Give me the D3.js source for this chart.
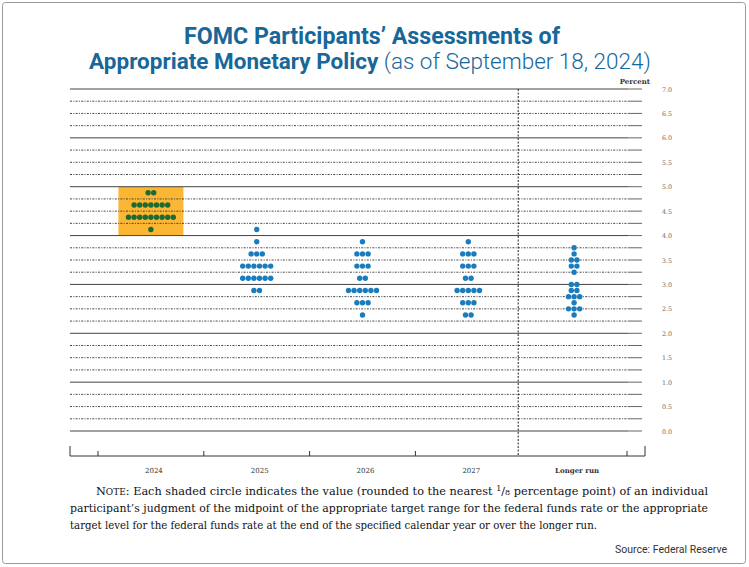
<!DOCTYPE html>
<html><head><meta charset="utf-8">
<script src="https://cdn.jsdelivr.net/npm/d3@7"></script>
<style>body{margin:0;background:#fff;} svg{display:block;}</style>
</head><body>
<svg id="c" width="749" height="567"></svg>
<script>
const categories = ["2024", "2025", "2026", "2027", "Longer run"];
// each series: [rate, number of participants]
const dots2024 = [[4.875,2],[4.625,7],[4.375,9],[4.125,1]];
const dots2025 = [[4.125,1],[3.875,1],[3.625,3],[3.375,6],[3.125,6],[2.875,2]];
const dots2026 = [[3.875,1],[3.625,3],[3.375,3],[3.125,2],[2.875,6],[2.625,3],[2.375,1]];
const dots2027 = [[3.875,1],[3.625,3],[3.375,3],[3.125,2],[2.875,5],[2.625,3],[2.375,2]];
const dotsLonger = [[3.75,1],[3.625,1],[3.5,2],[3.375,2],[3.25,1],[3.0,2],[2.875,2],[2.75,3],[2.625,1],[2.5,3],[2.375,1]];
const seriesDots = [dots2024, dots2025, dots2026, dots2027, dotsLonger];
const highlightRange = [4.0, 5.0];
const yTicks = [0,0.5,1,1.5,2,2.5,3,3.5,4,4.5,5,5.5,6,6.5,7];
const gridValues = d3.range(0, 7.01, 0.25);

const svg = d3.select("#c");
const y = d3.scaleLinear().domain([0,7]).range([431,89]);
const x = d3.scaleBand().domain(categories).range([98,627]).padding(0);

// outer border
svg.append("rect").attr("x",2.5).attr("y",2.5).attr("width",743).attr("height",561)
  .attr("rx",3).attr("fill","none").attr("stroke","#9a9a9a").attr("stroke-width",1);

// title
const title = svg.append("text").attr("text-anchor","middle").attr("fill","#17679a")
  .style("font-family","Roboto, 'Open Sans', sans-serif");
title.append("tspan").attr("x",372).attr("y",44).attr("font-size",23.2).attr("font-weight",700)
  .text("FOMC Participants\u2019 Assessments of");
const t2 = svg.append("text").attr("text-anchor","middle").attr("fill","#17679a")
  .style("font-family","Roboto, 'Open Sans', sans-serif").attr("x",370).attr("y",69);
t2.append("tspan").attr("font-size",22.5).attr("font-weight",700).text("Appropriate Monetary Policy");
t2.append("tspan").attr("font-size",22.5).attr("font-weight",300).text(" (as of September 18, 2024)");

// highlight box
svg.append("rect")
  .attr("x", x("2024") + x.bandwidth()/2 - 32.5)
  .attr("width", 65)
  .attr("y", y(highlightRange[1]))
  .attr("height", y(highlightRange[0]) - y(highlightRange[1]))
  .attr("fill","#fbb634");

// grid lines
const g = svg.append("g");
gridValues.forEach(v => {
  const isInt = Math.abs(v - Math.round(v)) < 1e-9;
  if (isInt) {
    g.append("line").attr("x1",70).attr("x2",628).attr("y1",y(v)).attr("y2",y(v))
      .attr("stroke","#444").attr("stroke-width",1);
  } else {
    g.append("line").attr("x1",70).attr("x2",628).attr("y1",y(v)).attr("y2",y(v))
      .attr("stroke","#333").attr("stroke-width",0.9).attr("stroke-dasharray","2,1.3,1,1.3");
  }
  g.append("line").attr("x1",628).attr("x2",642).attr("y1",y(v)).attr("y2",y(v))
    .attr("stroke","#666").attr("stroke-width",1);
});

// right axis labels
const yAxis = d3.axisRight(y).tickValues(yTicks).tickSize(0).tickPadding(0).tickFormat(d3.format(".1f"));
const ya = svg.append("g").attr("transform","translate(662,0)").call(yAxis);
ya.select(".domain").remove();
ya.selectAll("text").attr("fill","#666").style("font-family","'DejaVu Serif', serif").attr("font-size",6.3);
svg.append("text").attr("x",650).attr("y",84).attr("text-anchor","end")
  .style("font-family","'DejaVu Serif', serif").attr("font-size",7).attr("font-weight",700)
  .attr("fill","#333").text("Percent");

// vertical dashed separator
const sepX = x("Longer run");
svg.append("line").attr("x1",sepX-3).attr("x2",sepX-3).attr("y1",89).attr("y2",456)
  .attr("stroke","#222").attr("stroke-width",1).attr("stroke-dasharray","2,1.5");

// bottom axis
const bx = svg.append("g");
bx.append("line").attr("x1",70).attr("x2",645).attr("y1",456).attr("y2",456).attr("stroke","#333").attr("stroke-width",1);
[70,645].forEach(px => bx.append("line").attr("x1",px).attr("x2",px).attr("y1",446).attr("y2",456).attr("stroke","#333"));
categories.forEach((c,i) => {
  if (c === "Longer run") return;
  const px = x(c);
  bx.append("line").attr("x1",px).attr("x2",px).attr("y1",451).attr("y2",456).attr("stroke","#333");
});
bx.append("line").attr("x1",x.range()[1]).attr("x2",x.range()[1]).attr("y1",451).attr("y2",456).attr("stroke","#333");
const xAxis = d3.axisBottom(x).tickSize(0);
const xa = svg.append("g").attr("transform","translate(3,465)").call(xAxis);
xa.select(".domain").remove();
xa.selectAll("text").style("font-family","'DejaVu Serif', serif").attr("font-size",7).attr("fill","#333")
  .attr("font-weight", d => d === "Longer run" ? 700 : 400);

// dots
const spacing = 5.6, r = 2.7;
seriesDots.forEach((rows, i) => {
  const cx = x(categories[i]) + x.bandwidth()/2;
  const color = i === 0 ? "#1d6a33" : "#1b7cbd";
  rows.forEach(([v, n]) => {
    for (let k = 0; k < n; k++) {
      svg.append("circle").attr("cx", cx + (k - (n-1)/2)*spacing).attr("cy", y(v))
        .attr("r", r).attr("fill", color);
    }
  });
});

// note
const noteFont = "'DejaVu Serif', 'Liberation Serif', serif";
const note = svg.append("g").style("font-family", noteFont).attr("font-size",11.3).attr("fill","#111");
const l1 = note.append("text").attr("x",96).attr("y",495).attr("textLength",612).attr("lengthAdjust","spacingAndGlyphs");
l1.append("tspan").text("N");
l1.append("tspan").attr("font-size",9).text("OTE");
l1.append("tspan").text(": Each shaded circle indicates the value (rounded to the nearest ");
l1.append("tspan").attr("font-size",8).attr("dy",-4).text("1");
l1.append("tspan").attr("dy",4).text("/");
l1.append("tspan").attr("font-size",8).text("8");
l1.append("tspan").text(" percentage point) of an individual");
note.append("text").attr("x",70).attr("y",512).attr("textLength",638).attr("lengthAdjust","spacingAndGlyphs")
  .text("participant\u2019s judgment of the midpoint of the appropriate target range for the federal funds rate or the appropriate");
note.append("text").attr("x",70).attr("y",529).attr("textLength",527).attr("lengthAdjust","spacingAndGlyphs")
  .text("target level for the federal funds rate at the end of the specified calendar year or over the longer run.");

// source
svg.append("text").attr("x",727).attr("y",553).attr("text-anchor","end")
  .style("font-family","Roboto, sans-serif").attr("font-size",10.5).attr("fill","#333").text("Source: Federal Reserve");
</script>
</body></html>
